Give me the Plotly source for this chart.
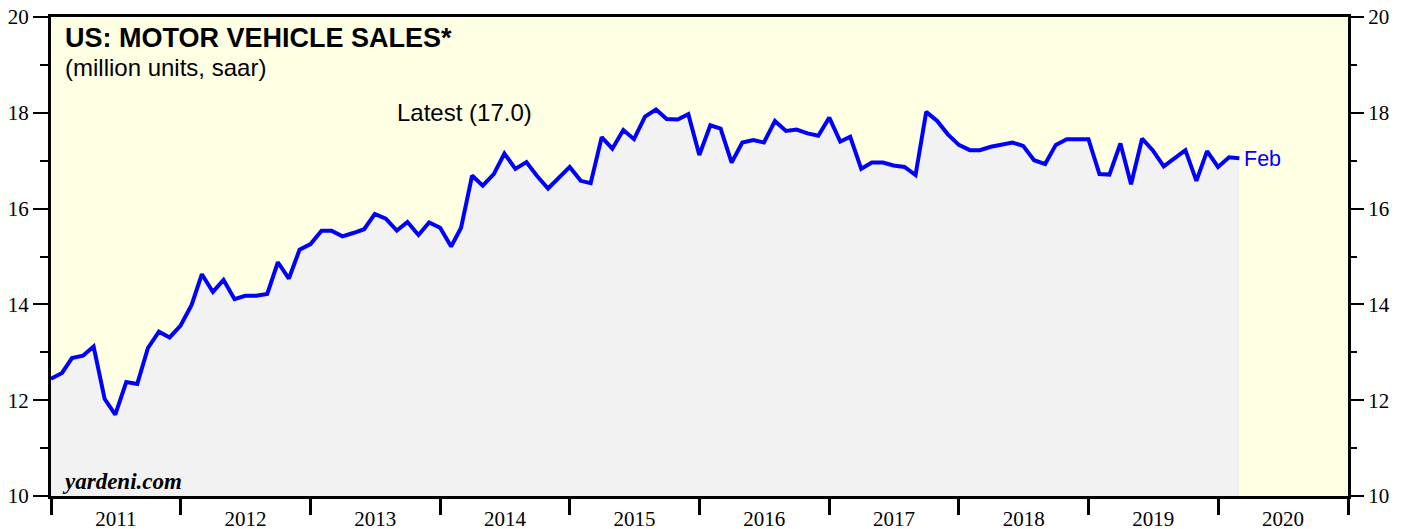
import pandas as pd
import plotly.graph_objects as go

# Monthly values (million units, saar), Dec 2010 .. Feb 2020, plotted at month-end
start_month = "2010-12-01"
sales = [
    12.45, 12.57, 12.88, 12.93, 13.12, 12.03, 11.70, 12.38, 12.34, 13.09,
    13.43, 13.31, 13.56, 13.99, 14.63, 14.26, 14.51, 14.11, 14.18, 14.18,
    14.22, 14.88, 14.54, 15.14, 15.26, 15.54, 15.54, 15.42, 15.49, 15.57,
    15.89, 15.79, 15.54, 15.72, 15.45, 15.71, 15.60, 15.21, 15.60, 16.69,
    16.48, 16.72, 17.15, 16.83, 16.97, 16.68, 16.42, 16.65, 16.87, 16.58,
    16.53, 17.49, 17.25, 17.64, 17.45, 17.92, 18.07, 17.87, 17.86, 17.97,
    17.12, 17.74, 17.67, 16.96, 17.38, 17.43, 17.38, 17.83, 17.62, 17.65,
    17.57, 17.52, 17.90, 17.40, 17.50, 16.83, 16.96, 16.96, 16.90, 16.87,
    16.70, 18.02, 17.83, 17.55, 17.33, 17.22, 17.22, 17.29, 17.34, 17.38,
    17.31, 17.01, 16.93, 17.33, 17.45, 17.44, 17.45, 16.72, 16.71, 17.36,
    16.51, 17.46, 17.22, 16.88, 17.06, 17.22, 16.58, 17.20, 16.87, 17.07,
    17.05,
]
months = pd.date_range(start_month, periods=len(sales), freq="MS")
x_plot = [m + pd.DateOffset(months=1) for m in months]  # month-end position

title_text = "US: MOTOR VEHICLE SALES*"
subtitle_text = "(million units, saar)"
latest_text = "Latest (17.0)"
last_label = "Feb"
source_text = "yardeni.com"

x_range = ["2011-01-01", "2021-01-01"]
y_range = [10, 20]

fig = go.Figure()
fig.add_trace(go.Scatter(
    x=x_plot, y=sales, mode="lines",
    line=dict(color="#0000FF", width=4),
    fill="tozeroy", fillcolor="#F2F2F2",
    hoverinfo="skip", showlegend=False,
))
# invisible trace to carry the right-hand axis
fig.add_trace(go.Scatter(
    x=[x_plot[0]], y=[sales[0]], yaxis="y2", mode="markers",
    marker=dict(opacity=0), hoverinfo="skip", showlegend=False,
))

tick_font = dict(family="Liberation Serif", size=21, color="black")

# page body has an 8px margin, so the figure is sized to fit the 1413x529 window
fig.update_layout(
    width=1405, height=521,
    margin=dict(l=43, r=65, t=9, b=33),
    paper_bgcolor="white",
    plot_bgcolor="#FFFFE4",
    xaxis=dict(
        range=x_range, type="date", automargin=False,
        dtick="M12", tick0="2011-01-01", tickformat="%Y",
        ticklabelmode="period", ticklabelstandoff=-14, ticklabeloverflow="allow",
        ticks="outside", ticklen=16, tickwidth=2.5, tickcolor="black",
        showline=True, linecolor="black", linewidth=3, mirror=True,
        showgrid=False, zeroline=False, tickfont=tick_font,
    ),
    yaxis=dict(
        range=y_range, dtick=2, tick0=10, automargin=False, ticklabeloverflow="allow",
        ticks="outside", ticklen=15, tickwidth=1.5, tickcolor="black",
        minor=dict(dtick=1, ticks="outside", ticklen=8, tickwidth=1.5, tickcolor="black"),
        showline=True, linecolor="black", linewidth=3, mirror=True,
        showgrid=False, zeroline=False, tickfont=tick_font,
    ),
    yaxis2=dict(
        range=y_range, dtick=2, tick0=10, overlaying="y", side="right",
        automargin=False, ticklabeloverflow="allow",
        ticks="outside", ticklen=15, tickwidth=1.5, tickcolor="black",
        minor=dict(dtick=1, ticks="outside", ticklen=8, tickwidth=1.5, tickcolor="black"),
        showline=False, showgrid=False, zeroline=False, tickfont=tick_font,
    ),
    annotations=[
        dict(xref="paper", yref="paper", x=0.0093, y=0.956, xanchor="left", yanchor="middle",
             text="<b>" + title_text + "</b>", showarrow=False,
             font=dict(family="Liberation Sans", size=27, color="black")),
        dict(xref="paper", yref="paper", x=0.0093, y=0.8956, xanchor="left", yanchor="middle",
             text=subtitle_text, showarrow=False,
             font=dict(family="Liberation Sans", size=24, color="black")),
        dict(xref="paper", yref="paper", x=0.2652, y=0.7996, xanchor="left", yanchor="middle",
             text=latest_text, showarrow=False,
             font=dict(family="Liberation Sans", size=24, color="black")),
        dict(xref="paper", yref="paper", x=0.0072, y=0.0313, xanchor="left", yanchor="middle",
             text="<b><i>" + source_text + "</i></b>", showarrow=False,
             font=dict(family="Liberation Serif", size=23, color="black")),
        dict(xref="x", yref="y", x=x_plot[-1], y=sales[-1], xanchor="left", yanchor="middle",
             xshift=3, yshift=-1,
             text=last_label, showarrow=False,
             font=dict(family="Liberation Sans", size=21.5, color="#0000FF")),
    ],
)

fig.write_html("out.html")
